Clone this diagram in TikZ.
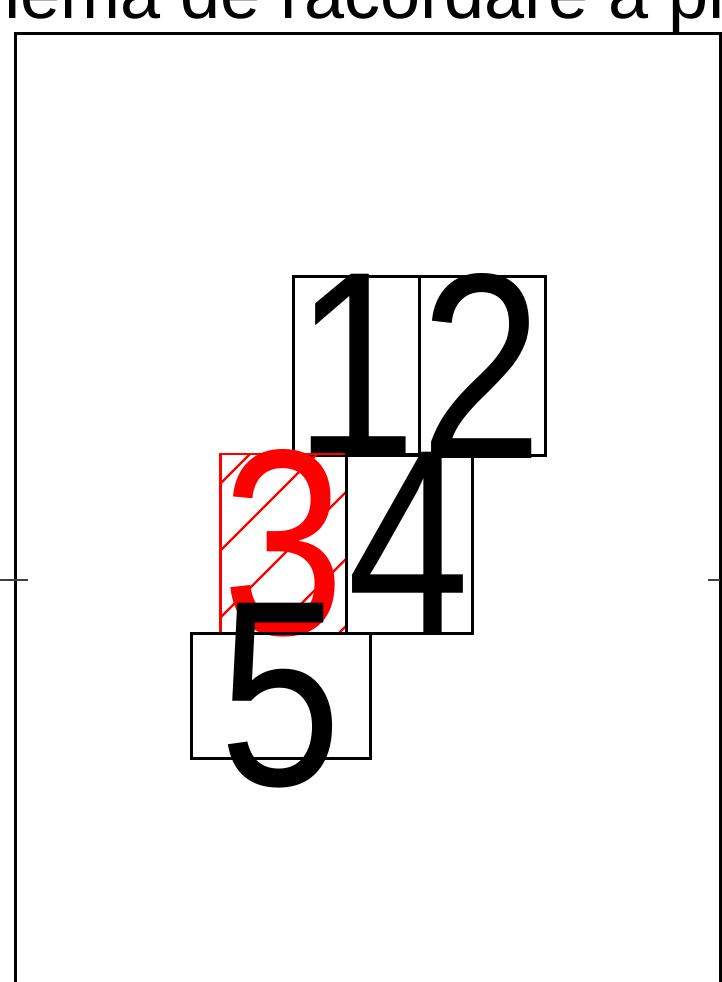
\documentclass[tikz,border=0pt]{standalone}
\usepackage{fontspec}
\setmainfont{Liberation Sans}
\newfontfamily\digitfont{Liberation Sans}[FakeStretch=0.83]
\tikzset{
  frame/.style={line width=1.5pt},
  cell/.style={draw,line width=1.5pt,inner sep=0pt,minimum width=63pt,minimum height=89.5pt},
  redcell/.style={cell,draw=red,line width=1.2pt},
  widecell/.style={cell,minimum width=89.5pt,minimum height=62.5pt},
  digit/.style={inner sep=0pt,font=\digitfont\fontsize{132.5}{132.5}\selectfont},
  hatch/.style={red,line width=1.2pt},
  tick/.style={black!75,line width=0.7pt}
}
\begin{document}
\begin{tikzpicture}[x=0.5pt,y=-0.5pt]
  \useasboundingbox (0,0) rectangle (722,982);
  \clip (0,0) rectangle (722,982);
  \node[anchor=base west,inner sep=0pt,font=\fontsize{36}{36}\selectfont]
    (title) at (-104,18) {Schema de racordare a pr};
  \draw[frame] (15,1000) -- (15,33) -- (720,33) -- (720,1000);
  \draw[tick] (0,580) -- (28,580);
  \draw[tick] (708,580) -- (720,580);
  \node[cell] (c1) at (356,365.5) {};
  \node[digit] at (c1) {1};
  \node[cell] (c2) at (482,365.5) {};
  \node[digit] at (c2) {2};
  \begin{scope}
    \clip (221,454) rectangle (346,633);
    \foreach \c in {704,771,...,972}
      \draw[hatch] (\c-700,700) -- (\c-400,400);
  \end{scope}
  \node[redcell] (c3) at (283.5,543.5) {};
  \node[digit,text=red] at (c3) {3};
  \node[cell] (c4) at (409,543.5) {};
  \node[digit] at (c4) {4};
  \node[widecell] (c5) at (280.5,695.5) {};
  \node[digit] at (c5) {5};
\end{tikzpicture}
\end{document}
